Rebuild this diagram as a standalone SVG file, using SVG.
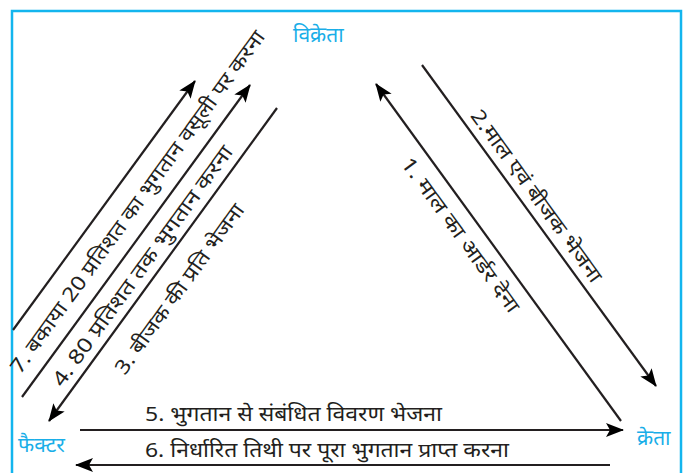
<svg xmlns="http://www.w3.org/2000/svg" width="690" height="473" viewBox="0 0 690 473">
<style>
.lbl{font-family:"Noto Sans","Noto Sans Devanagari","Lohit Devanagari",sans-serif;font-size:20px;fill:#231f20}
.node{font-family:"Noto Sans","Noto Sans Devanagari","Lohit Devanagari",sans-serif;font-size:21px;fill:#1aaee8}
.ln{stroke:#231f20;stroke-width:2.2;fill:none}
</style>
<defs>
<marker id="ah" viewBox="0 0 18 14" refX="17" refY="7" markerWidth="18" markerHeight="14" markerUnits="userSpaceOnUse" orient="auto">
<path d="M0,0 L18,7 L0,14 L4,7 Z" fill="#000"/>
</marker>
</defs>
<rect x="12" y="11" width="669" height="480" fill="none" stroke="#13b5ee" stroke-width="2.5"/>
<g id="seller"><text class="node" x="293" y="42">विक्रेता</text></g>
<g id="factor"><text class="node" x="18" y="452">फैक्टर</text></g>
<g id="buyer"><text class="node" x="637" y="445">क्रेता</text></g>
<g id="connectors">
<line class="ln" x1="621" y1="421" x2="376" y2="84" marker-end="url(#ah)"/>
<line class="ln" x1="422" y1="65" x2="656" y2="386" marker-end="url(#ah)"/>
<line class="ln" x1="13" y1="330" x2="195" y2="81" marker-end="url(#ah)"/>
<line class="ln" x1="22" y1="397" x2="250" y2="85" marker-end="url(#ah)"/>
<line class="ln" x1="277" y1="108" x2="49" y2="421" marker-end="url(#ah)"/>
<line class="ln" x1="80" y1="430" x2="623" y2="430" stroke-width="2.8" marker-end="url(#ah)"/>
<line class="ln" x1="610" y1="465" x2="76" y2="465" stroke-width="2.8" marker-end="url(#ah)"/>
</g>
<g id="labels">
<text class="lbl" text-anchor="middle" textLength="186" lengthAdjust="spacingAndGlyphs" transform="translate(455,239) rotate(54)">1. माल का आर्डर देना</text>
<text class="lbl" text-anchor="middle" textLength="208" lengthAdjust="spacingAndGlyphs" transform="translate(531,200) rotate(54)">2.माल एवं बीजक भेजना</text>
<text class="lbl" text-anchor="middle" textLength="205" lengthAdjust="spacingAndGlyphs" transform="translate(185,293) rotate(-54)">3. बीजक की प्रति भेजना</text>
<text class="lbl" text-anchor="middle" textLength="292" lengthAdjust="spacingAndGlyphs" transform="translate(148,270) rotate(-54)">4. 80 प्रतिशत तक भुगतान करना</text>
<text class="lbl" text-anchor="middle" textLength="418" lengthAdjust="spacingAndGlyphs" transform="translate(143,206) rotate(-54)">7. बकाया 20 प्रतिशत का भुगतान वसूली पर करना</text>
<text class="lbl" x="145" y="421" textLength="297" lengthAdjust="spacingAndGlyphs">5. भुगतान से संबंधित विवरण भेजना</text>
<text class="lbl" x="145" y="457" textLength="364" lengthAdjust="spacingAndGlyphs">6. निर्धारित तिथी पर पूरा भुगतान प्राप्त करना</text>
</g>
</svg>
